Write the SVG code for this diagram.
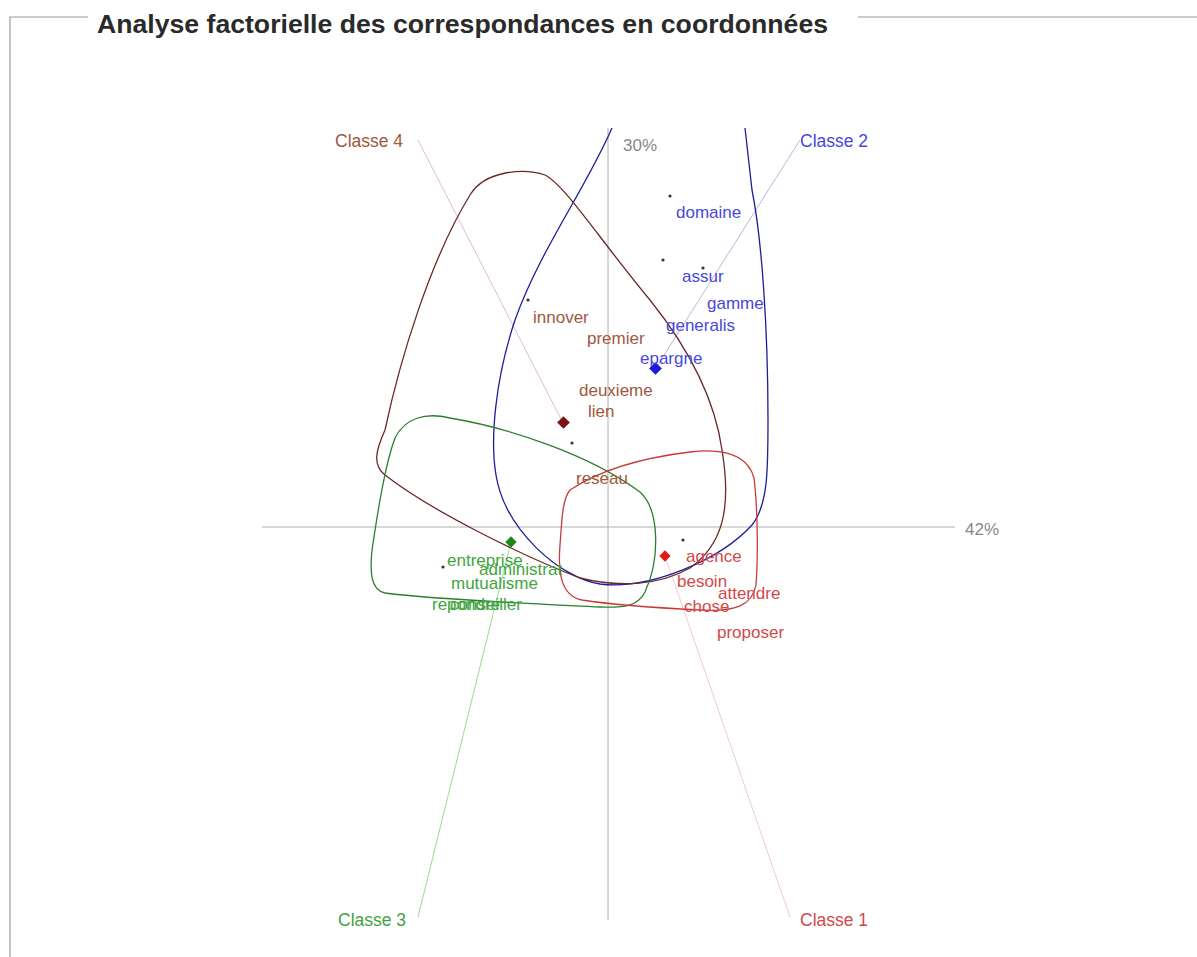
<svg xmlns="http://www.w3.org/2000/svg" width="1197" height="957" viewBox="0 0 1197 957">
<style>
.frame{fill:none;stroke:#999;stroke-width:1.2}
.title{font-family:"Liberation Sans",Arial,sans-serif;font-weight:bold;font-size:26px;fill:#2a2a2a}
.axis{stroke:#b0b0b0;stroke-width:1}
.pct{font-family:"Liberation Sans",Arial,sans-serif;font-size:17px;fill:#888}
.lbl{font-family:"Liberation Sans",Arial,sans-serif;font-size:17px}
.cls{font-family:"Liberation Sans",Arial,sans-serif;font-size:17.5px}
.c1{fill:#d04a4a}.c2{fill:#4848d8}.c3{fill:#3fa53f}.c4{fill:#a0583e}
.dot{fill:#333}
.hull{fill:none;stroke-width:1.3}
.lead{fill:none;stroke-width:1}
</style>
<g id="frame">
<path class="frame" d="M88 17 H10 V957 M858 17 H1197"/>
<text class="title" x="97" y="33" textLength="731" lengthAdjust="spacingAndGlyphs">Analyse factorielle des correspondances en coordonnées</text>
</g>
<g id="axes">
<line class="axis" x1="262" y1="527" x2="955" y2="527"/>
<line class="axis" x1="608" y1="128" x2="608" y2="920"/>
<text class="pct" x="965" y="535">42%</text>
<text class="pct" x="623" y="151">30%</text>
</g>
<g id="connectors">
<line class="lead" stroke="#e0b8e0" x1="418" y1="140" x2="563" y2="423"/>
<line class="lead" stroke="#b8b8dc" x1="800" y1="140" x2="656" y2="368"/>
<line class="lead" stroke="#90e090" x1="418" y1="917" x2="511" y2="542"/>
<line class="lead" stroke="#f0c8d8" x1="790" y1="917" x2="665" y2="556"/>
</g>
<g id="hull-classe-2">
<path class="hull" stroke="#1c1c9c" d="M612 128 C585 190 540 250 515 320 C495 380 490 440 496 475 C505 530 560 578 600 584 C650 590 720 560 752 525 C768 505 768 470 768 420 C768 330 762 240 752 190 L745 128"/>
</g>
<g id="hull-classe-4">
<path class="hull" stroke="#6a2828" d="M470 195 C485 170 525 168 545 175 C565 185 600 240 650 300 C690 350 715 400 722 450 C732 510 722 545 690 568 C660 585 620 588 580 578 C520 555 430 510 385 475 C372 465 376 450 385 430 C400 360 430 260 470 195 Z"/>
</g>
<g id="hull-classe-3">
<path class="hull" stroke="#2e7e2e" d="M395 438 C405 418 425 412 450 418 C510 428 590 455 640 492 C660 510 660 560 645 592 C638 606 625 608 600 607 C540 604 440 600 385 593 C370 590 370 570 372 550 C378 510 385 465 395 438 Z"/>
</g>
<g id="hull-classe-1">
<path class="hull" stroke="#c83a3a" d="M570 490 C600 470 640 458 690 452 C725 448 748 456 754 478 C758 510 758 560 756 585 C752 606 735 612 700 610 C660 608 620 606 582 600 C560 596 558 570 560 545 C562 520 562 500 570 490 Z"/>
</g>
<g id="points">
<circle class="dot" cx="670" cy="196" r="1.6"/>
<circle class="dot" cx="663" cy="260" r="1.6"/>
<circle class="dot" cx="703" cy="268" r="1.6"/>
<circle class="dot" cx="528" cy="300" r="1.6"/>
<circle class="dot" cx="572" cy="443" r="1.6"/>
<circle class="dot" cx="683" cy="540" r="1.6"/>
<circle class="dot" cx="443" cy="567" r="1.6"/>
</g>
<g id="node-classe-4">
<rect x="559" y="418" width="9" height="9" fill="#7a1515" transform="rotate(45 563.5 422.5)"/>
<text class="cls c4" x="335" y="147">Classe 4</text>
<text class="lbl c4" x="533" y="323">innover</text>
<text class="lbl c4" x="587" y="344">premier</text>
<text class="lbl c4" x="579" y="396">deuxieme</text>
<text class="lbl c4" x="588" y="417">lien</text>
<text class="lbl c4" x="576" y="484">reseau</text>
</g>
<g id="node-classe-2">
<rect x="651" y="364" width="9" height="9" fill="#1a1ae0" transform="rotate(45 655.5 368.5)"/>
<text class="cls c2" x="800" y="147">Classe 2</text>
<text class="lbl c2" x="676" y="218">domaine</text>
<text class="lbl c2" x="682" y="282">assur</text>
<text class="lbl c2" x="707" y="309">gamme</text>
<text class="lbl c2" x="666" y="331">generalis</text>
<text class="lbl c2" x="640" y="364">epargne</text>
</g>
<g id="node-classe-3">
<rect x="507" y="538" width="8" height="8" fill="#1a8a1a" transform="rotate(45 511 542)"/>
<text class="cls c3" x="338" y="926">Classe 3</text>
<text class="lbl c3" x="447" y="566">entreprise</text>
<text class="lbl c3" x="479" y="575">administrat</text>
<text class="lbl c3" x="451" y="589">mutualisme</text>
<text class="lbl c3" x="432" y="610">repondre</text>
<text class="lbl c3" x="450" y="610">conseiller</text>
</g>
<g id="node-classe-1">
<rect x="661" y="552" width="8" height="8" fill="#e01a1a" transform="rotate(45 665 556)"/>
<text class="cls c1" x="800" y="926">Classe 1</text>
<text class="lbl c1" x="686" y="562">agence</text>
<text class="lbl c1" x="677" y="587">besoin</text>
<text class="lbl c1" x="718" y="599">attendre</text>
<text class="lbl c1" x="684" y="612">chose</text>
<text class="lbl c1" x="717" y="638">proposer</text>
</g>
</svg>
